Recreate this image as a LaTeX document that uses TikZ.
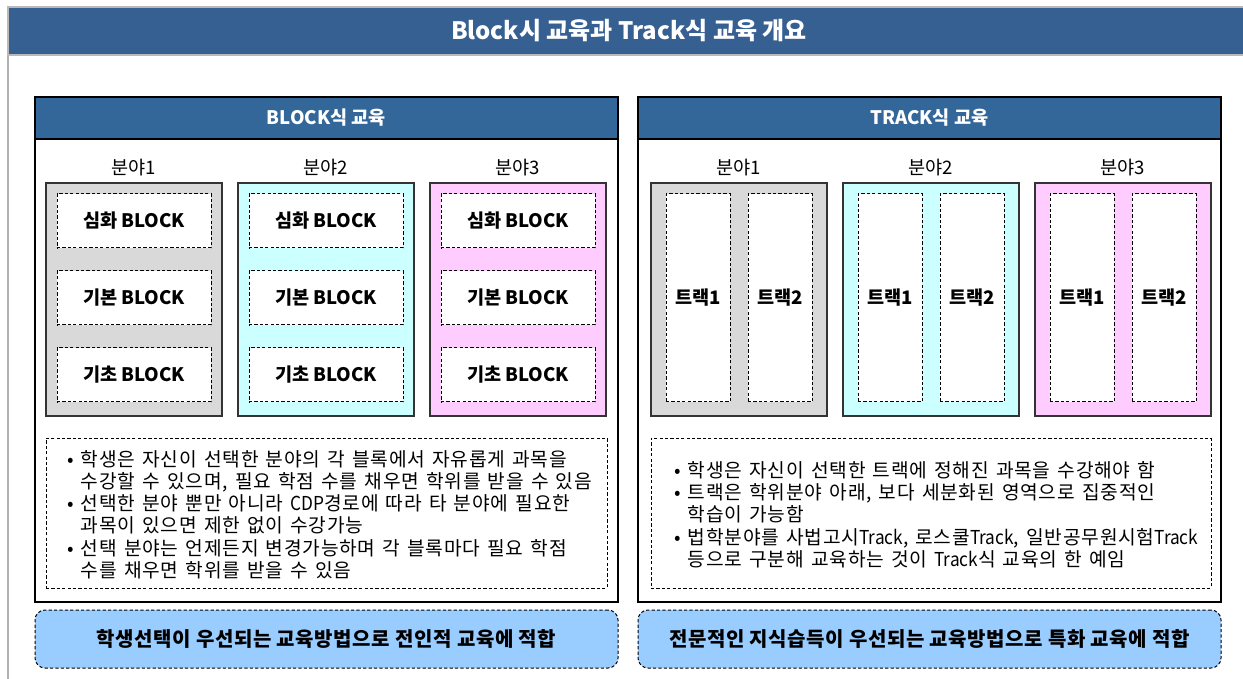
\documentclass[tikz,border=0pt]{standalone}
\usepackage{fontspec}
\setmainfont{Noto Sans CJK KR}
\newfontfamily\notefont[LetterSpace=4,WordSpace=1.4]{Noto Sans CJK KR}
\newfontfamily\notelatin[FakeStretch=0.9,WordSpace=1.4]{Noto Sans CJK KR}
\usetikzlibrary{fit}

\definecolor{titleblue}{RGB}{54,96,146}
\definecolor{headblue}{RGB}{51,102,153}
\definecolor{fieldgray}{RGB}{217,217,217}
\definecolor{fieldcyan}{RGB}{204,255,255}
\definecolor{fieldpink}{RGB}{255,204,255}
\definecolor{notebox}{RGB}{153,204,255}

\newcommand{\bul}{\makebox[6.5pt][l]{•}}
\newcommand{\cont}{\hspace*{6.5pt}}
\newcommand{\en}[1]{{\notelatin #1}}

\tikzset{
  fine dash/.style={dash pattern=on 1.6pt off 1.1pt},
  panel/.style={draw=black, line width=0.8pt, fill=white, inner sep=0pt},
  panelhead/.style={draw=black, line width=0.8pt, fill=headblue, inner sep=0pt},
  headtext/.style={text=white, inner sep=0pt, font=\bfseries\fontsize{9.3}{11}\selectfont},
  field/.style={draw=black!80, line width=0.6pt, inner sep=0pt},
  fieldlabel/.style={font=\fontsize{9.3}{11}\selectfont},
  unitbox/.style={draw=black, fine dash, fill=white, line width=0.5pt, inner sep=0pt},
  unittext/.style={inner sep=0pt, font=\bfseries\fontsize{9.3}{11}\selectfont},
  notes/.style={draw=black, fine dash, line width=0.5pt, inner sep=0pt},
  notetext/.style={align=left, inner sep=0pt,
    font=\notefont\fontsize{9.6}{11.1}\selectfont},
  summary/.style={draw=black, fine dash, line width=0.5pt, rounded corners=5pt,
    fill=notebox, inner sep=0pt},
  sumtext/.style={inner sep=0pt,
    font=\bfseries\fontsize{10}{11}\selectfont\addfontfeatures{LetterSpace=3}}
}

\begin{document}
\begin{tikzpicture}[x=0.5pt, y=-0.5pt]
  \useasboundingbox (0,0) rectangle (1243,679);
  \fill[white] (0,0) rectangle (1243,679);
  % frame and title bar
  \draw[gray!60, line width=0.8pt] (8,55) -- (8,679);
  \node[draw=gray!55, line width=0.8pt, fill=titleblue, inner sep=0pt,
    fit={(8,7) (1250,55)},
    label={[text=white, inner sep=0pt, font=\bfseries\fontsize{12}{13}\selectfont]
      center:Block시 교육과 Track식 교육 개요}] (title) {};

  % BLOCK panel
  \node[panel, fit={(35,97) (618,602)}] (bpanel) {};
  \node[panelhead, fit={(35,97) (618,139)},
    label={[headtext]center:BLOCK식 교육}] (bhead) {};
  \foreach \i/\cx/\col in {1/46/fieldgray, 2/238/fieldcyan, 3/430/fieldpink} {
    \node[field, fill=\col, fit={(\cx,183) (\cx+176,416)}] (bf\i) {};
    \node[fieldlabel] (bl\i) at (\cx+88,168) {분야\i};
    \foreach \j/\ya/\name in {1/194/심화, 2/271/기본, 3/348/기초}
      \node[unitbox, fit={(\cx+11,\ya) (\cx+165,\ya+54)},
        label={[unittext]center:\name\ BLOCK}] (bu\i\j) {};
  }
  \node[notes, fit={(46,438) (607,588)}] (bnotes) {};
  \node[notetext, anchor=west] (btext) at ([xshift=11pt,yshift=-0.8pt]bnotes.west)
    {\bul 학생은 자신이 선택한 분야의 각 블록에서 자유롭게 과목을\\
     \cont 수강할 수 있으며, 필요 학점 수를 채우면 학위를 받을 수 있음\\
     \bul 선택한 분야 뿐만 아니라 \en{CDP}경로에 따라 타 분야에 필요한\\
     \cont 과목이 있으면 제한 없이 수강가능\\
     \bul 선택 분야는 언제든지 변경가능하며 각 블록마다 필요 학점\\
     \cont 수를 채우면 학위를 받을 수 있음};
  \node[summary, fit={(35,610) (618,668)},
    label={[sumtext]center:학생선택이 우선되는 교육방법으로 전인적 교육에 적합}] (bsum) {};

  % TRACK panel
  \node[panel, fit={(638,97) (1221,602)}] (tpanel) {};
  \node[panelhead, fit={(638,97) (1221,139)},
    label={[headtext]center:TRACK식 교육}] (thead) {};
  \foreach \i/\cx/\col in {1/651/fieldgray, 2/843/fieldcyan, 3/1035/fieldpink} {
    \node[field, fill=\col, fit={(\cx,183) (\cx+176,416)}] (tf\i) {};
    \node[fieldlabel] (tl\i) at (\cx+88,168) {분야\i};
    \node[unitbox, fit={(\cx+15,194) (\cx+79,402)},
      label={[unittext]center:트랙1}] (tu\i1) {};
    \node[unitbox, fit={(\cx+97,194) (\cx+161,402)},
      label={[unittext]center:트랙2}] (tu\i2) {};
  }
  \node[notes, fit={(651,438) (1211,588)}] (tnotes) {};
  \node[notetext, anchor=west] (ttext) at ([xshift=12pt,yshift=-0.8pt]tnotes.west)
    {\bul 학생은 자신이 선택한 트랙에 정해진 과목을 수강해야 함\\
     \bul 트랙은 학위분야 아래, 보다 세분화된 영역으로 집중적인\\
     \cont 학습이 가능함\\
     \bul 법학분야를 사법고시\en{Track}, 로스쿨\en{Track}, 일반공무원시험\en{Track}\\
     \cont 등으로 구분해 교육하는 것이 \en{Track}식 교육의 한 예임};
  \node[summary, fit={(638,610) (1221,668)},
    label={[sumtext]center:전문적인 지식습득이 우선되는 교육방법으로 특화 교육에 적합}] (tsum) {};
\end{tikzpicture}
\end{document}
